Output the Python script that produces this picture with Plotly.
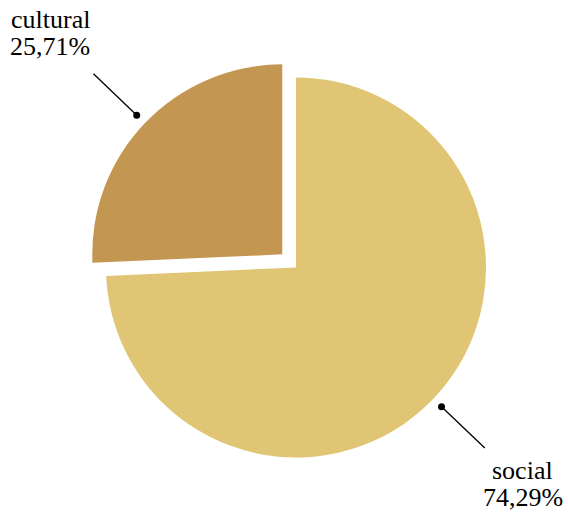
import math
import plotly.graph_objects as go

# ---- data ----
labels = ["social", "cultural"]
values = [74.29, 25.71]
colors = ["#E0C674", "#C39651"]
pulls = [0.0, 0.1]

W, H = 568, 514
dom_x = [87 / W, 505 / W]
dom_y = [(H - 476.5) / H, (H - 58.5) / H]

FONT = "Liberation Serif"
FS = 26
LINE_GAP = 27

fig = go.Figure(go.Pie(
    labels=labels, values=values, sort=False, direction="clockwise",
    rotation=0, pull=pulls, textinfo="none", hoverinfo="label+percent",
    marker=dict(colors=colors, line=dict(width=0)),
    domain=dict(x=dom_x, y=dom_y), showlegend=False,
))

# geometry of the pie (pixel space) derived from the domain and values
cx = (dom_x[0] + dom_x[1]) / 2 * W
cy = (1 - (dom_y[0] + dom_y[1]) / 2) * H
R = min((dom_x[1] - dom_x[0]) * W, (dom_y[1] - dom_y[0]) * H) / 2 / (1 + max(pulls))


def px(x):
    return x / W


def py(y):
    return 1 - y / H


total = sum(values)
cum = 0.0
shapes = []
annotations = []
for lab, v, p in zip(labels, values, pulls):
    f0 = cum / total
    cum += v
    f1 = cum / total
    mid = (f0 + f1) / 2 * 2 * math.pi  # clockwise from 12 o'clock
    dx, dy = math.sin(mid), -math.cos(mid)
    pcx = cx + p * R * dx
    pcy = cy + p * R * dy
    dot = (pcx + 1.06 * R * dx, pcy + 1.06 * R * dy)
    end = (pcx + 1.375 * R * dx, pcy + 1.375 * R * dy)
    shapes.append(dict(type="line", xref="paper", yref="paper",
                       x0=px(dot[0]), y0=py(dot[1]), x1=px(end[0]), y1=py(end[1]),
                       line=dict(color="black", width=1.3)))
    r = 3.5
    shapes.append(dict(type="circle", xref="paper", yref="paper",
                       x0=px(dot[0] - r), x1=px(dot[0] + r),
                       y0=py(dot[1] + r), y1=py(dot[1] - r),
                       fillcolor="black", line=dict(width=0)))
    if dx > 0:
        tx = end[0] + 38
        y1 = end[1] + 22
    else:
        tx = end[0] - 43
        y1 = end[1] - 27 - LINE_GAP
    pct = f"{v:.2f}".replace(".", ",") + "%"
    for k, t in enumerate([lab, pct]):
        annotations.append(dict(
            x=px(tx), y=py(y1 + k * LINE_GAP), xref="paper", yref="paper",
            text=t, showarrow=False, align="center", borderpad=0,
            xanchor="center", yanchor="middle",
            font=dict(family=FONT, size=FS, color="black"),
        ))

fig.update_layout(
    width=W, height=H, margin=dict(l=0, r=0, t=0, b=0),
    paper_bgcolor="white", plot_bgcolor="white",
    shapes=shapes, annotations=annotations,
)

fig.write_html("out.html", config={"displayModeBar": False},
               post_script="document.body.style.margin='0';")
